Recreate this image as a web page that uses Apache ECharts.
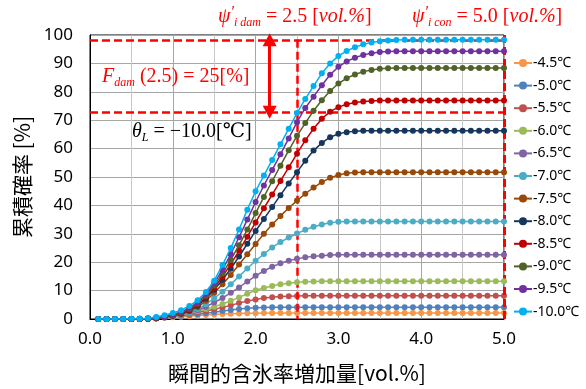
<!DOCTYPE html>
<html>
<head>
<meta charset="utf-8">
<script src="https://cdn.jsdelivr.net/npm/echarts@6/dist/echarts.min.js"></script>
<style>
  html, body { margin: 0; padding: 0; background: #fff; }
  #chart { width: 586px; height: 389px; }
</style>
</head>
<body>
<div id="chart"></div>
<script>
// 横軸 (vol.%)
const xs = [0.1, 0.2, 0.3, 0.4, 0.5, 0.6, 0.7, 0.8, 0.9, 1.0,
  1.1, 1.2, 1.3, 1.4, 1.5, 1.6, 1.7, 1.8, 1.9, 2.0,
  2.1, 2.2, 2.3, 2.4, 2.5, 2.6, 2.7, 2.8, 2.9, 3.0,
  3.1, 3.2, 3.3, 3.4, 3.5, 3.6, 3.7, 3.8, 3.9, 4.0,
  4.1, 4.2, 4.3, 4.4, 4.5, 4.6, 4.7, 4.8, 4.9, 5.0]

const names = ['-4.5℃', '-5.0℃', '-5.5℃', '-6.0℃', '-6.5℃', '-7.0℃',
  '-7.5℃', '-8.0℃', '-8.5℃', '-9.0℃', '-9.5℃', '-10.0℃']

const colors = ['#f79646', '#4f81bd', '#c0504d', '#9bbb59', '#8064a2', '#4bacc6',
  '#984807', '#17365d', '#c00000', '#4f6228', '#7030a0', '#00b0f0']

// 累積確率 [%]
const t45 = [0, 0, 0, 0, 0, 0, 0.1, 0.2, 0.4, 0.6,
  0.8, 1.0, 1.2, 1.4, 1.6, 1.75, 1.85, 1.95, 2.0, 2.05,
  2.1, 2.1, 2.1, 2.1, 2.1, 2.1, 2.1, 2.1, 2.1, 2.1,
  2.1, 2.1, 2.1, 2.1, 2.1, 2.1, 2.1, 2.1, 2.1, 2.1,
  2.1, 2.1, 2.1, 2.1, 2.1, 2.1, 2.1, 2.1, 2.1, 2.1]
const t50 = [0, 0, 0, 0, 0, 0, 0.1, 0.3, 0.5, 0.8,
  1.1, 1.4, 1.7, 2.0, 2.4, 2.8, 3.2, 3.5, 3.8, 3.95,
  4.05, 4.1, 4.1, 4.1, 4.1, 4.1, 4.1, 4.1, 4.1, 4.1,
  4.1, 4.1, 4.1, 4.1, 4.1, 4.1, 4.1, 4.1, 4.1, 4.1,
  4.1, 4.1, 4.1, 4.1, 4.1, 4.1, 4.1, 4.1, 4.1, 4.1]
const t55 = [0, 0, 0, 0, 0, 0, 0.1, 0.3, 0.6, 0.9,
  1.3, 1.8, 2.3, 2.8, 3.4, 4.1, 4.8, 5.6, 6.3, 6.9,
  7.4, 7.7, 7.9, 8.05, 8.1, 8.15, 8.2, 8.2, 8.2, 8.2,
  8.2, 8.2, 8.2, 8.2, 8.2, 8.2, 8.2, 8.2, 8.2, 8.2,
  8.2, 8.2, 8.2, 8.2, 8.2, 8.2, 8.2, 8.2, 8.2, 8.2]
const t60 = [0, 0, 0, 0, 0, 0, 0.1, 0.3, 0.6, 0.9,
  1.4, 2.0, 2.7, 3.5, 4.3, 5.3, 6.4, 7.6, 8.9, 10.1,
  10.9, 11.6, 12.2, 12.6, 12.9, 13.1, 13.2, 13.3, 13.3, 13.3,
  13.3, 13.3, 13.3, 13.3, 13.3, 13.3, 13.3, 13.3, 13.3, 13.3,
  13.3, 13.3, 13.3, 13.3, 13.3, 13.3, 13.3, 13.3, 13.3, 13.3]
const t65 = [0, 0, 0, 0, 0, 0, 0.1, 0.3, 0.6, 1.0,
  1.5, 2.2, 3.1, 4.3, 5.8, 7.4, 9.2, 11.1, 13.2, 15.2,
  16.9, 18.4, 19.6, 20.5, 21.2, 21.7, 22.1, 22.3, 22.5, 22.6,
  22.6, 22.6, 22.6, 22.6, 22.6, 22.6, 22.6, 22.6, 22.6, 22.6,
  22.6, 22.6, 22.6, 22.6, 22.6, 22.6, 22.6, 22.6, 22.6, 22.6]
const t70 = [0, 0, 0, 0, 0, 0, 0.1, 0.3, 0.6, 1.0,
  1.6, 2.4, 3.5, 5.2, 7.3, 9.6, 12.2, 15.0, 17.8, 20.5,
  22.9, 25.2, 27.1, 28.7, 30.1, 31.4, 32.5, 33.3, 33.9, 34.2,
  34.3, 34.3, 34.3, 34.3, 34.3, 34.3, 34.3, 34.3, 34.3, 34.3,
  34.3, 34.3, 34.3, 34.3, 34.3, 34.3, 34.3, 34.3, 34.3, 34.3]
const t75 = [0, 0, 0, 0, 0, 0, 0.1, 0.3, 0.6, 1.1,
  1.7, 2.7, 4.2, 6.4, 9.2, 12.2, 15.5, 19.2, 22.8, 26.4,
  30.0, 33.3, 36.3, 39.1, 41.7, 44.1, 46.3, 48.2, 49.7, 50.7,
  51.3, 51.6, 51.7, 51.7, 51.7, 51.7, 51.7, 51.7, 51.7, 51.7,
  51.7, 51.7, 51.7, 51.7, 51.7, 51.7, 51.7, 51.7, 51.7, 51.7]
const t80 = [0, 0, 0, 0, 0, 0, 0.1, 0.3, 0.7, 1.2,
  1.9, 3.0, 4.7, 7.2, 10.3, 13.8, 17.7, 22.0, 26.5, 31.0,
  35.2, 39.4, 43.6, 47.7, 51.7, 55.7, 59.3, 62.0, 64.0, 65.2,
  65.8, 66.1, 66.3, 66.3, 66.3, 66.3, 66.3, 66.3, 66.3, 66.3,
  66.3, 66.3, 66.3, 66.3, 66.3, 66.3, 66.3, 66.3, 66.3, 66.3]
const t85 = [0, 0, 0, 0, 0, 0, 0.1, 0.3, 0.7, 1.3,
  2.0, 3.2, 5.0, 7.7, 11.0, 14.9, 19.3, 24.0, 29.0, 34.0,
  39.0, 43.8, 48.6, 53.4, 58.2, 62.9, 67.0, 70.5, 73.0, 74.6,
  75.6, 76.2, 76.6, 76.8, 76.9, 76.9, 76.9, 76.9, 76.9, 76.9,
  76.9, 76.9, 76.9, 76.9, 76.9, 76.9, 76.9, 76.9, 76.9, 76.9]
const t90 = [0, 0, 0, 0, 0, 0.1, 0.2, 0.4, 0.8, 1.4,
  2.2, 3.5, 5.4, 8.2, 11.8, 16.0, 20.8, 26.0, 31.5, 37.3,
  43.0, 48.5, 54.0, 59.4, 64.5, 69.0, 73.3, 77.0, 80.3, 82.9,
  84.8, 86.1, 87.1, 87.7, 88.1, 88.3, 88.4, 88.4, 88.4, 88.4,
  88.4, 88.4, 88.4, 88.4, 88.4, 88.4, 88.4, 88.4, 88.4, 88.4]
const t95 = [0, 0, 0, 0, 0, 0.1, 0.2, 0.5, 0.9, 1.6,
  2.5, 3.9, 5.9, 8.8, 12.6, 17.3, 22.8, 28.8, 35.0, 41.2,
  47.0, 52.5, 58.0, 63.6, 69.3, 74.3, 78.3, 82.3, 86.0, 88.8,
  90.7, 92.0, 93.0, 93.6, 94.0, 94.2, 94.3, 94.3, 94.3, 94.3,
  94.3, 94.3, 94.3, 94.3, 94.3, 94.3, 94.3, 94.3, 94.3, 94.3]
const t100 = [0, 0, 0, 0, 0.1, 0.1, 0.3, 0.7, 1.3, 2.1,
  3.1, 4.6, 6.6, 9.5, 13.5, 19.0, 25.0, 31.5, 38.5, 45.0,
  50.5, 56.0, 61.5, 67.0, 72.5, 77.5, 82.0, 86.5, 90.0, 92.6,
  94.4, 95.7, 96.7, 97.4, 97.8, 98.1, 98.2, 98.3, 98.3, 98.3,
  98.3, 98.3, 98.3, 98.3, 98.3, 98.3, 98.3, 98.3, 98.3, 98.3]

const allValues = [t45, t50, t55, t60, t65, t70, t75, t80, t85, t90, t95, t100]

// 補助線
const dam = 2.5
const con = 5.0
const topLevel = 98.3
const damLevel = 72.8
const arrowX = 2.17

const chart = echarts.init(document.getElementById('chart'))

const serif = '"Liberation Serif", "DejaVu Serif", serif'
const richRed = {
  n: { fontFamily: serif, fontSize: 20, lineHeight: 24, fill: '#ff0000' },
  i: { fontFamily: serif, fontSize: 20, lineHeight: 24, fontStyle: 'italic', fill: '#ff0000' },
  sup: { fontFamily: serif, fontSize: 16, lineHeight: 12, fontStyle: 'italic', verticalAlign: 'top', fill: '#ff0000' },
  sub: { fontFamily: serif, fontSize: 12, lineHeight: 12, fontStyle: 'italic', verticalAlign: 'bottom', fill: '#ff0000' }
}
const richBlack = {
  n: { fontFamily: serif, fontSize: 20, lineHeight: 24, fill: '#000' },
  i: { fontFamily: serif, fontSize: 20, lineHeight: 24, fontStyle: 'italic', fill: '#000' },
  sub: { fontFamily: serif, fontSize: 12, lineHeight: 12, fontStyle: 'italic', verticalAlign: 'bottom', fill: '#000' }
}

const dashStyle = { color: '#ff0000', type: [8, 4], width: 2.5 }

const series = names.map((name, k) => ({
  name: name,
  type: 'line',
  data: xs.map((x, i) => [x, allValues[k][i]]),
  symbol: 'circle',
  symbolSize: 6,
  lineStyle: { color: colors[k], width: 1.5 },
  itemStyle: { color: colors[k] },
  z: 2 + k
}))

// 赤破線・矢印
series.push({
  name: 'guide',
  type: 'line',
  data: [],
  z: 30,
  markLine: {
    silent: true,
    symbol: 'none',
    label: { show: false },
    lineStyle: dashStyle,
    data: [
      [{ coord: [0, topLevel] }, { coord: [con, topLevel] }],
      [{ coord: [0, damLevel] }, { coord: [con, damLevel] }],
      [{ coord: [dam, topLevel] }, { coord: [dam, 0] }],
      [{ coord: [con, 100], lineStyle: { width: 3 } }, { coord: [con, 0] }],
      [
        { coord: [arrowX, topLevel], symbol: 'triangle', symbolSize: [14, 13], symbolRotate: 0,
          lineStyle: { type: 'solid', width: 3 } },
        { coord: [arrowX, damLevel], symbol: 'triangle', symbolSize: [14, 13], symbolRotate: 180 }
      ]
    ]
  }
})

const option = {
  animation: false,
  color: colors,
  grid: {
    left: 90, right: 82, top: 35, bottom: 69,
    show: true, borderColor: '#000', borderWidth: 1
  },
  legend: {
    data: names,
    orient: 'vertical',
    left: 508,
    top: 51,
    itemWidth: 18,
    itemHeight: 10,
    itemGap: 8.6,
    textStyle: { fontFamily: 'Noto Sans', fontSize: 14, color: '#000', padding: [0, 0, 0, -4] }
  },
  xAxis: {
    type: 'value',
    min: 0,
    max: 5,
    interval: 1,
    name: '瞬間的含氷率増加量[vol.%]',
    nameLocation: 'middle',
    nameGap: 44,
    nameTextStyle: { fontFamily: '"Noto Sans CJK JP"', fontSize: 21, color: '#000' },
    axisLine: { lineStyle: { color: '#000' } },
    axisTick: { show: false },
    axisLabel: { fontFamily: 'Noto Sans', fontSize: 17, color: '#000', margin: 12,
      formatter: v => v.toFixed(1) },
    splitLine: { show: true, lineStyle: { color: '#a6a6a6' } },
    minorTick: { show: false, splitNumber: 2 },
    minorSplitLine: { show: true, lineStyle: { color: '#c8c8c8' } }
  },
  yAxis: {
    type: 'value',
    min: 0,
    max: 100,
    interval: 10,
    name: '累積確率 [%]',
    nameLocation: 'middle',
    nameGap: 56,
    nameRotate: 90,
    nameTextStyle: { fontFamily: '"Noto Sans CJK JP"', fontSize: 21, color: '#000' },
    axisLine: { lineStyle: { color: '#000' } },
    axisTick: { show: false },
    axisLabel: { fontFamily: 'Noto Sans', fontSize: 17, color: '#000', margin: 17 },
    splitLine: { show: true, lineStyle: { color: '#a6a6a6' } }
  },
  graphic: [
    { type: 'text', left: 218, top: 5, z: 100,
      style: { text: '{i|ψ}{sup|′}{sub|i dam}{n| = 2.5 [}{i|vol.%}{n|]}', rich: richRed } },
    { type: 'text', left: 412, top: 5, z: 100,
      style: { text: '{i|ψ}{sup|′}{sub|i con}{n| = 5.0 [}{i|vol.%}{n|]}', rich: richRed } },
    { type: 'text', left: 102, top: 67, z: 100,
      style: { text: '{i|F}{sub|dam}{n| (2.5) = 25[%]}', rich: richRed } },
    { type: 'text', left: 132, top: 122, z: 100,
      style: { text: '{i|θ}{sub|L}{n| = −10.0[℃]}', rich: richBlack } }
  ],
  series: series
}

chart.setOption(option)
</script>
</body>
</html>
